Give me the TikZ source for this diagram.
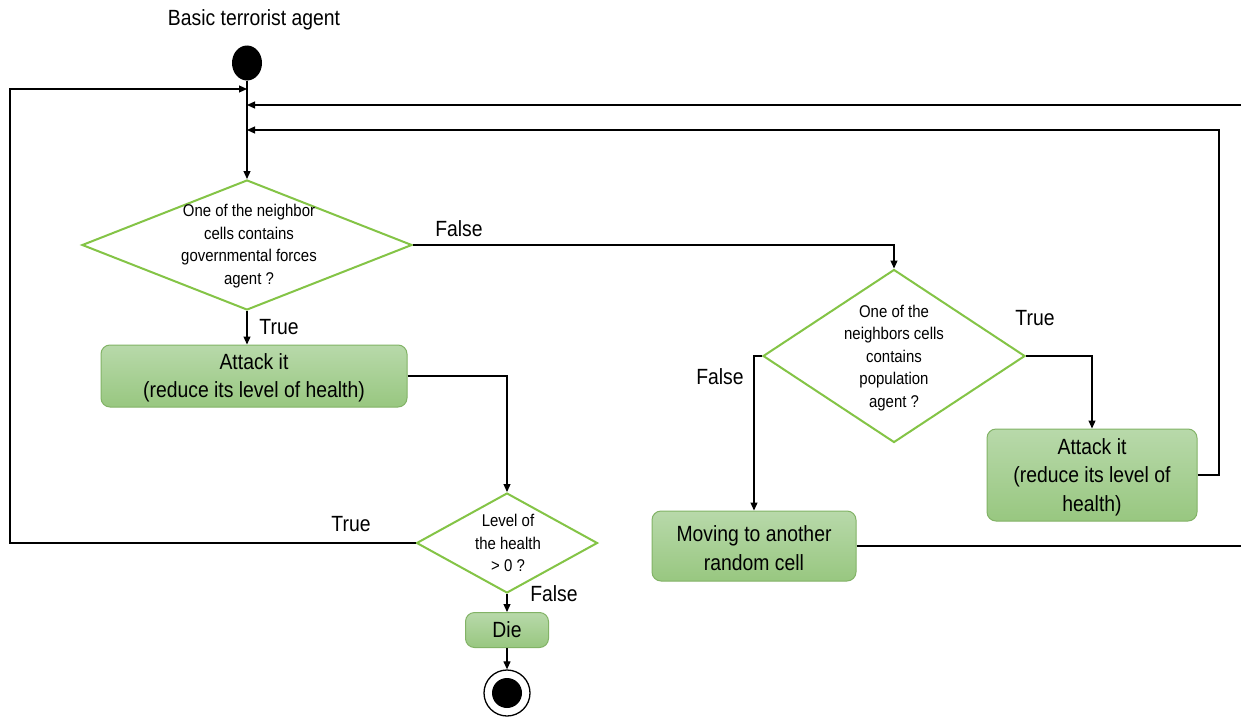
\documentclass[tikz,border=0pt]{standalone}
\usepackage{fontspec}
\setmainfont{Liberation Sans}[FakeStretch=0.88]
\usetikzlibrary{shapes.geometric,arrows.meta}
\definecolor{decline}{RGB}{132,196,70}
\definecolor{boxline}{RGB}{130,179,102}
\definecolor{boxtop}{RGB}{184,217,170}
\definecolor{boxbot}{RGB}{152,199,128}
\tikzset{
  arr/.style={line width=1.2pt,-{Triangle[length=8pt,width=7pt]}},
  decision/.style={diamond,draw=decline,line width=2pt,inner sep=0pt},
  dtext/.style={align=center,font=\fontsize{17}{22.5}\selectfont},
  action/.style={rounded corners=9pt,draw=boxline,line width=1pt,
    top color=boxtop,bottom color=boxbot,align=center,inner sep=0pt,
    font=\fontsize{22}{28.5}\selectfont},
  lbl/.style={font=\fontsize{22}{26}\selectfont}
}
\begin{document}
\begin{tikzpicture}[x=1pt,y=-1pt]
\useasboundingbox (0,0) rectangle (1241,717);
\clip (0,0) rectangle (1241,717);
\fill[white] (0,0) rectangle (1241,717);

% start and title
\node[lbl] (title) at (254,20) {Basic terrorist agent};
\node[ellipse,fill=black,minimum width=30pt,minimum height=35pt,inner sep=0pt] (start) at (247,63) {};

% first decision
\node[decision,minimum width=330pt,minimum height=130pt] (d1) at (247,245) {};
\node[dtext] (d1t) at (249,246) {One of the neighbor\\cells contains\\governmental forces\\agent ?};

% attack governmental forces
\node[action,minimum width=306pt,minimum height=62pt] (a1) at (254,376) {\strut Attack it\\(reduce its level of health)};

% health check
\node[decision,minimum width=181pt,minimum height=100pt] (d3) at (507,543) {};
\node[dtext] (d3t) at (508,543) {Level of\\the health\\> 0 ?};

\node[action,minimum width=83pt,minimum height=35pt] (die) at (507,630) {Die};

% end node
\node[circle,draw=black,line width=1.3pt,fill=white,minimum size=46pt,inner sep=0pt] (end) at (507,693) {};
\node[circle,fill=black,minimum size=30pt,inner sep=0pt] (endin) at (end) {};

% second decision
\node[decision,minimum width=262pt,minimum height=173pt] (d2) at (894,356) {};
\node[dtext] (d2t) at (894,358) {One of the\\neighbors cells\\contains\\population\\agent ?};

\node[action,minimum width=210pt,minimum height=92pt] (a2) at (1092,475) {\strut Attack it\\(reduce its level of\\health)};
\node[action,minimum width=204pt,minimum height=70pt] (mv) at (754,546) {\strut Moving to another\\random cell};

% junction points on the main line
\coordinate (m1) at (247,89);
\coordinate (m2) at (247,105);
\coordinate (m3) at (247,130);
\coordinate (l1) at (10,89);
\coordinate (r1) at (1250,546);
\coordinate (r2) at (1219,130);

% connectors
\draw[arr] (start) -- (d1.north);
\draw[arr] (d1.south) -- (d1.south |- a1.north);
\draw[arr] (a1.east) -| (d3.north);
\draw[arr] (d3.south) -- (die.north);
\draw[arr] (die.south) -- (end.north);
\draw[arr] (d3.west) -| (l1) -- (m1);
\draw[arr] (d1.east) -| (d2.north);
\draw[arr] (d2.east) -| (a2.north);
\draw[arr] (d2.west) -| (mv.north);
\draw[arr] (a2.east) -| (r2) -- (m3);
\draw[arr] (mv.east) -- (r1) |- (m2);

% branch labels
\node[lbl] (t1) at (279,327) {True};
\node[lbl] (f1) at (459,229) {False};
\node[lbl] (t3) at (351,524) {True};
\node[lbl] (f3) at (554,594) {False};
\node[lbl] (t2) at (1035,318) {True};
\node[lbl] (f2) at (720,377) {False};
\end{tikzpicture}
\end{document}
